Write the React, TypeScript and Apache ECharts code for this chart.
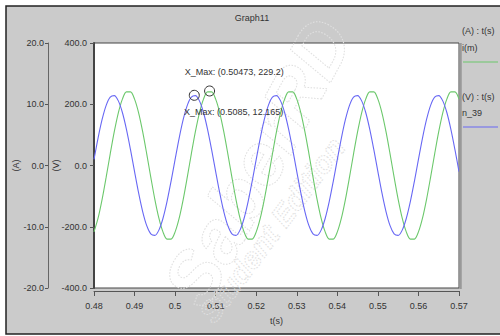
import React, { useEffect, useRef } from "react";
import * as echarts from "echarts";

// sample grid (s)
const tStart = 0.48;
const tStep = 0.001;

// n_39 voltage (V)
const voltage = [
  19.9, 89.6, 150.4, 196.5, 223.3, 228.3, 211.0, 173.0, 118.0, 51.6, -19.9, -89.6, -150.4, -196.5, -223.3, -228.3, -211.0, -173.0, -118.0, -51.6,
  19.9, 89.6, 150.4, 196.5, 223.3, 228.3, 211.0, 173.0, 118.0, 51.6, -19.9, -89.6, -150.4, -196.5, -223.3, -228.3, -211.0, -173.0, -118.0, -51.6,
  19.9, 89.6, 150.4, 196.5, 223.3, 228.3, 211.0, 173.0, 118.0, 51.6, -19.9, -89.6, -150.4, -196.5, -223.3, -228.3, -211.0, -173.0, -118.0, -51.6,
  19.9, 89.6, 150.4, 196.5, 223.3, 228.3, 211.0, 173.0, 118.0, 51.6, -19.9, -89.6, -150.4, -196.5, -223.3, -228.3, -211.0, -173.0, -118.0, -51.6,
  19.9, 89.6, 150.4, 196.5, 223.3, 228.3, 211.0, 173.0, 118.0, 51.6, -19.9,
];

// i(m) current (A)
const current = [
  -10.84, -8.6, -5.52, -1.9, 1.9, 5.52, 8.6, 10.84, 12.02, 12.02, 10.84, 8.6, 5.52, 1.9, -1.9, -5.52, -8.6, -10.84, -12.02, -12.02,
  -10.84, -8.6, -5.52, -1.9, 1.9, 5.52, 8.6, 10.84, 12.02, 12.02, 10.84, 8.6, 5.52, 1.9, -1.9, -5.52, -8.6, -10.84, -12.02, -12.02,
  -10.84, -8.6, -5.52, -1.9, 1.9, 5.52, 8.6, 10.84, 12.02, 12.02, 10.84, 8.6, 5.52, 1.9, -1.9, -5.52, -8.6, -10.84, -12.02, -12.02,
  -10.84, -8.6, -5.52, -1.9, 1.9, 5.52, 8.6, 10.84, 12.02, 12.02, 10.84, 8.6, 5.52, 1.9, -1.9, -5.52, -8.6, -10.84, -12.02, -12.02,
  -10.84, -8.6, -5.52, -1.9, 1.9, 5.52, 8.6, 10.84, 12.02, 12.02, 10.84,
];

const vMax = [0.50473, 229.2];
const iMax = [0.5085, 12.165];

const title = "Graph11";
const xName = "t(s)";
const vName = "(V)";
const aName = "(A)";

const FONT = "'Liberation Sans Narrow', 'Liberation Sans', Arial, sans-serif";
const TXT = "#333";
const BLUE = "#6868f4";
const GREEN = "#6cc86c";

export default function App() {
  const ref = useRef<HTMLDivElement>(null);
  useEffect(() => {
    if (!ref.current) return;
    const chart = echarts.init(ref.current, undefined, { renderer: "svg" });
    const times = voltage.map((_, i) => +(tStart + i * tStep).toFixed(3));
    const vData = times.map((t, i) => [t, voltage[i]]);
    const iData = times.map((t, i) => [t, current[i]]);
    const fmt = (v: number) => v.toFixed(1);
    const option: any = {
      animation: false,
      textStyle: { fontFamily: FONT },
      graphic: [
        {
          type: "rect",
          z: -100,
          shape: { x: 6, y: 6, width: 500, height: 328 },
          style: { fill: "#cbcbcb", stroke: "#222", lineWidth: 1.5 },
        },
        {
          type: "text",
          x: 252,
          y: 18,
          style: { text: title, font: `9px ${FONT}`, fill: TXT, align: "center", verticalAlign: "middle" },
        },
        {
          type: "line",
          z: 5,
          shape: { x1: 460.5, y1: 43, x2: 460.5, y2: 289 },
          style: { stroke: "#999", lineWidth: 2.5 },
        },
        {
          type: "text",
          z: 1,
          x: 258,
          y: 162,
          rotation: 1.07,
          style: {
            text: "SaberRD",
            font: `bold italic 74px ${FONT}`,
            fill: "none",
            stroke: "#e0e0e0",
            lineWidth: 1,
            lineDash: [1.5, 1.5],
            align: "center",
            verticalAlign: "middle",
          },
        },
        {
          type: "text",
          z: 1,
          x: 272,
          y: 230,
          rotation: 0.93,
          style: {
            text: "Student Edition",
            font: `bold italic 30px ${FONT}`,
            fill: "none",
            stroke: "#e0e0e0",
            lineWidth: 1,
            lineDash: [1.5, 1.5],
            align: "center",
            verticalAlign: "middle",
          },
        },
        { type: "text", x: 462, y: 31, style: { text: "(A) : t(s)", font: `9px ${FONT}`, fill: TXT, verticalAlign: "middle" } },
        { type: "text", x: 462, y: 48, style: { text: "i(m)", font: `9px ${FONT}`, fill: TXT, verticalAlign: "middle" } },
        { type: "line", shape: { x1: 463, y1: 62, x2: 498, y2: 62 }, style: { stroke: GREEN, lineWidth: 1.2 } },
        { type: "text", x: 462, y: 97, style: { text: "(V) : t(s)", font: `9px ${FONT}`, fill: TXT, verticalAlign: "middle" } },
        { type: "text", x: 462, y: 113, style: { text: "n_39", font: `9px ${FONT}`, fill: TXT, verticalAlign: "middle" } },
        { type: "line", shape: { x1: 463, y1: 127, x2: 498, y2: 127 }, style: { stroke: BLUE, lineWidth: 1.2 } },
      ],
      grid: {
        left: 94,
        top: 43,
        right: 41,
        bottom: 48,
        show: true,
        backgroundColor: "#fff",
        borderColor: "#444",
        borderWidth: 1,
      },
      xAxis: {
        type: "value",
        min: 0.48,
        max: 0.57,
        interval: 0.01,
        offset: 3,
        axisLine: { show: true, onZero: false, lineStyle: { color: "#555" } },
        axisTick: { show: true, length: 5, lineStyle: { color: "#555" } },
        axisLabel: { fontSize: 9, color: TXT, margin: 10, formatter: (v: number) => String(+v.toFixed(2)) },
        splitLine: { show: false },
        name: xName,
        nameLocation: "middle",
        nameGap: 25,
        nameMoveOverlap: false,
        nameTextStyle: { fontSize: 9, color: TXT },
      },
      yAxis: [
        {
          type: "value",
          min: -400,
          max: 400,
          interval: 200,
          position: "left",
          axisLine: { show: true, onZero: false, lineStyle: { color: "#444", width: 2 } },
          axisTick: { show: true, length: 4, lineStyle: { color: "#555" } },
          axisLabel: { fontSize: 9, color: TXT, margin: 7, formatter: fmt },
          splitLine: { show: false },
          name: vName,
          nameLocation: "middle",
          nameGap: 34,
          nameMoveOverlap: false,
          nameRotate: 90,
          nameTextStyle: { fontSize: 9, color: TXT },
        },
        {
          type: "value",
          min: -20,
          max: 20,
          interval: 10,
          position: "left",
          offset: 46,
          axisLine: { show: true, onZero: false, lineStyle: { color: "#666" } },
          axisTick: { show: true, length: 3, lineStyle: { color: "#555" } },
          axisLabel: { fontSize: 9, color: TXT, margin: 4, formatter: fmt },
          splitLine: { show: false },
          name: aName,
          nameLocation: "middle",
          nameGap: 28,
          nameMoveOverlap: false,
          nameRotate: 90,
          nameTextStyle: { fontSize: 9, color: TXT },
        },
      ],
      series: [
        {
          name: "i(m)",
          type: "line",
          yAxisIndex: 1,
          data: iData,
          showSymbol: false,
          smooth: 0.3,
          lineStyle: { color: GREEN, width: 1.1 },
          itemStyle: { color: GREEN },
          markPoint: {
            symbol: "circle",
            symbolSize: 10,
            itemStyle: { color: "rgba(255,255,255,0)", borderColor: "#333", borderWidth: 1 },
            label: {
              show: true,
              position: [-20, 22],
              fontSize: 9,
              color: TXT,
              fontFamily: FONT,
              formatter: () => `X_Max: (${iMax[0]}, ${iMax[1]})`,
            },
            data: [{ coord: iMax }],
          },
        },
        {
          name: "n_39",
          type: "line",
          yAxisIndex: 0,
          data: vData,
          showSymbol: false,
          smooth: 0.3,
          lineStyle: { color: BLUE, width: 1.1 },
          itemStyle: { color: BLUE },
          markPoint: {
            symbol: "circle",
            symbolSize: 10,
            itemStyle: { color: "rgba(255,255,255,0)", borderColor: "#333", borderWidth: 1 },
            label: {
              show: true,
              position: [-4, -22],
              fontSize: 9,
              color: TXT,
              fontFamily: FONT,
              formatter: () => `X_Max: (${vMax[0]}, ${vMax[1]})`,
            },
            data: [{ coord: vMax }],
          },
        },
      ],
    };
    chart.setOption(option);
    return () => chart.dispose();
  }, []);
  return (
    <div
      ref={ref}
      style={{ position: "fixed", left: 0, top: 0, width: 500, height: 336, background: "#fff" }}
    />
  );
}
